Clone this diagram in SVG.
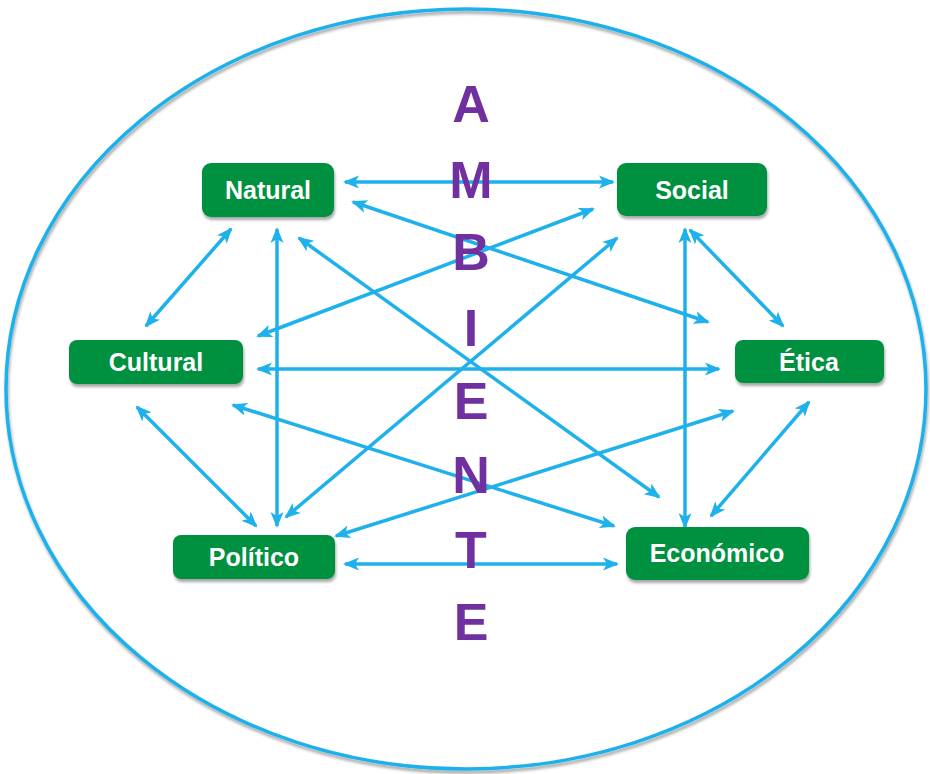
<svg xmlns="http://www.w3.org/2000/svg" width="930" height="774" viewBox="0 0 930 774">
<defs>
<filter id="sh" x="-10%" y="-10%" width="130%" height="140%">
<feGaussianBlur in="SourceAlpha" stdDeviation="1.5"/>
<feOffset dx="1" dy="2.5" result="b"/>
<feComponentTransfer><feFuncA type="linear" slope="0.35"/></feComponentTransfer>
<feMerge><feMergeNode/><feMergeNode in="SourceGraphic"/></feMerge>
</filter>
<marker id="ah" viewBox="0 0 16 14" refX="14" refY="7" markerWidth="16" markerHeight="14" markerUnits="userSpaceOnUse" orient="auto-start-reverse">
<path d="M0,0.5 L16,7 L0,13.5 L4,7 Z" fill="#1FB1EB"/>
</marker>
</defs>
<style>
.node rect{fill:#009140;filter:url(#sh)}
.node text{fill:#ffffff;font-family:"Liberation Sans",Arial,sans-serif;font-weight:bold;font-size:25px;text-anchor:middle}
.conn line{stroke:#1FB1EB;stroke-width:3.5;marker-start:url(#ah);marker-end:url(#ah)}
.letters text{fill:#7030A0;font-family:"Liberation Sans",Arial,sans-serif;font-weight:bold;font-size:52px;text-anchor:middle}
</style>
<rect width="930" height="774" fill="#ffffff"/>
<ellipse cx="466" cy="389" rx="460" ry="380" fill="none" stroke="#1FB1EB" stroke-width="3.5" filter="url(#sh)"/>
<g id="connectors" class="conn">
<line x1="345" y1="182" x2="613" y2="182"/>
<line x1="353" y1="202" x2="708" y2="322"/>
<line x1="231" y1="229" x2="146" y2="326"/>
<line x1="277" y1="229" x2="277" y2="526"/>
<line x1="299" y1="238" x2="659" y2="497"/>
<line x1="593" y1="209" x2="258" y2="336"/>
<line x1="617" y1="238" x2="286" y2="517"/>
<line x1="685" y1="229" x2="685" y2="527"/>
<line x1="690" y1="230" x2="783" y2="326"/>
<line x1="258" y1="369" x2="719" y2="369"/>
<line x1="137" y1="407" x2="256" y2="526"/>
<line x1="233" y1="405" x2="614" y2="526"/>
<line x1="733" y1="411" x2="336" y2="536"/>
<line x1="809" y1="402" x2="711" y2="516"/>
<line x1="345" y1="564" x2="617" y2="564"/>
</g>
<g id="ambiente" class="letters">
<text x="471" y="122">A</text>
<text x="471" y="198">M</text>
<text x="471" y="270">B</text>
<text x="471" y="346">I</text>
<text x="471" y="419">E</text>
<text x="471" y="493">N</text>
<text x="471" y="568">T</text>
<text x="471" y="640">E</text>
</g>
<g id="natural" class="node"><rect x="202" y="163" width="132" height="54" rx="9"/><text x="268" y="199">Natural</text></g>
<g id="social" class="node"><rect x="617" y="163" width="150" height="53" rx="9"/><text x="692" y="199">Social</text></g>
<g id="cultural" class="node"><rect x="69" y="340" width="174" height="44" rx="8"/><text x="156" y="371">Cultural</text></g>
<g id="etica" class="node"><rect x="735" y="340" width="149" height="43" rx="8"/><text x="809" y="371">Ética</text></g>
<g id="politico" class="node"><rect x="173" y="535" width="162" height="44" rx="8"/><text x="254" y="566">Político</text></g>
<g id="economico" class="node"><rect x="626" y="527" width="183" height="53" rx="9"/><text x="717" y="562">Económico</text></g>
</svg>
